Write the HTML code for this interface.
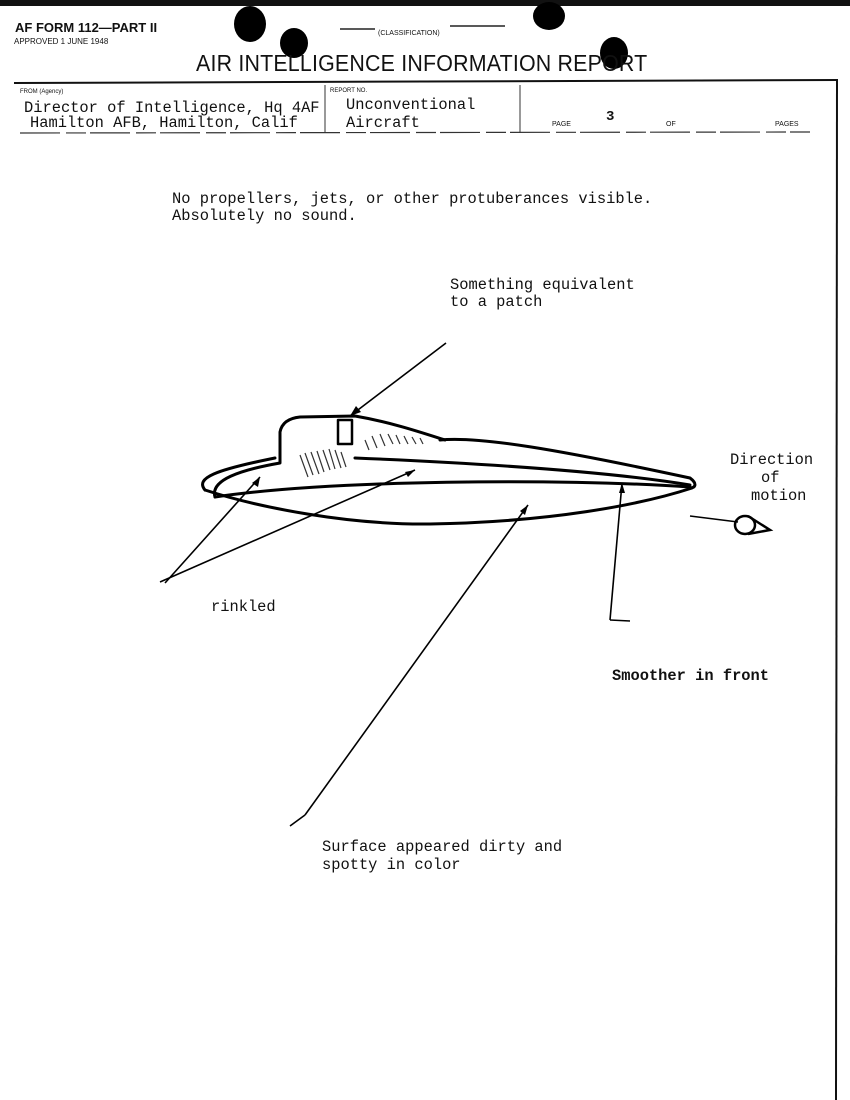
<!DOCTYPE html>
<html><head><meta charset="utf-8"><style>
body{margin:0;width:850px;height:1100px;background:#fff;overflow:hidden;position:relative;font-family:"Liberation Mono",monospace;}
.t{position:absolute;white-space:nowrap;color:#111;}
.m{font-family:"Liberation Mono",monospace;font-size:15.4px;line-height:15px;}
.s{font-family:"Liberation Sans",sans-serif;}
</style></head><body>
<svg width="850" height="1100" style="position:absolute;left:0;top:0">
<rect x="0" y="0" width="850" height="6" fill="#111"/>
<ellipse cx="250" cy="24" rx="16" ry="18" fill="#000"/>
<ellipse cx="294" cy="43" rx="14" ry="15" fill="#000"/>
<ellipse cx="549" cy="16" rx="16" ry="14" fill="#000"/>
<ellipse cx="614" cy="53" rx="14" ry="16" fill="#000"/>
<line x1="340" y1="29" x2="375" y2="29" stroke="#222" stroke-width="1.5"/>
<line x1="450" y1="26" x2="505" y2="26" stroke="#222" stroke-width="1.5"/>
<line x1="14" y1="83" x2="838" y2="80" stroke="#111" stroke-width="2"/>
<line x1="837" y1="80" x2="836" y2="1100" stroke="#111" stroke-width="2"/>
<line x1="325" y1="85" x2="325" y2="133" stroke="#333" stroke-width="1"/>
<line x1="520" y1="85" x2="520" y2="133" stroke="#333" stroke-width="1"/>
<line x1="20" y1="133" x2="810" y2="132" stroke="#333" stroke-width="1.2" stroke-dasharray="40 6 20 4"/>
<g fill="none" stroke="#000" stroke-width="3" stroke-linecap="round" stroke-linejoin="round">
<path d="M215,497 C210,480 240,470 280,463 L280,432 C282,422 290,418 300,417 L355,416 C390,422 420,432 445,440"/>
<path d="M440,440 C480,436 560,450 690,478 C698,484 695,488 690,488"/>
<path d="M205,490 C195,478 215,470 275,458"/>
<path d="M205,490 C260,508 350,525 430,524 C550,522 640,505 692,488"/>
<path d="M215,497 C330,480 560,478 690,487"/>
<path d="M355,458 C450,462 600,470 690,485"/>
<rect x="338" y="420" width="14" height="24" stroke-width="2.5"/>
</g>
<g stroke="#333" stroke-width="1.2" fill="none">
<path d="M300,455 l8,22 M305,453 l8,22 M311,452 l8,22 M317,451 l7,21 M323,450 l7,20 M329,449 l6,20 M335,450 l6,18 M341,452 l5,15"/>
<path d="M365,440 l4,10 M372,436 l5,12 M380,434 l5,12 M388,434 l5,10 M396,435 l4,9 M404,436 l4,8 M412,437 l4,7 M420,438 l3,6"/>
</g>
<g stroke="#000" stroke-width="1.6" fill="none">
<line x1="446" y1="343" x2="350" y2="416"/>
<line x1="260" y1="477" x2="165" y2="583"/>
<line x1="415" y1="470" x2="160" y2="582"/>
<line x1="528" y1="505" x2="305" y2="815"/><line x1="305" y1="815" x2="290" y2="826"/>
<line x1="622" y1="483" x2="610" y2="620"/><line x1="610" y1="620" x2="630" y2="621"/>
<line x1="690" y1="516" x2="738" y2="522"/>
</g>
<g fill="#000"><polygon points="350,416 356,406 361,412"/><polygon points="260,477 252,483 258,487"/><polygon points="415,470 405,472 408,477"/><polygon points="528,505 520,511 525,515"/><polygon points="622,483 619,493 625,493"/></g>
<g stroke="#000" stroke-width="2.5" fill="none"><ellipse cx="745" cy="525" rx="10" ry="9"/><path d="M748,516 L770,530 L748,534"/></g>
</svg>
<div class="t s" style="left:15px;top:20px;font-size:13px;font-weight:bold;">AF FORM 112—PART II</div>
<div class="t s" style="left:14px;top:37px;font-size:8px;">APPROVED 1 JUNE 1948</div>
<div class="t s" style="left:378px;top:30px;font-size:7px;">(CLASSIFICATION)</div>
<div class="t s" style="left:196px;top:50px;font-size:23px;letter-spacing:0.2px;transform:scaleX(0.93);transform-origin:left;">AIR INTELLIGENCE INFORMATION REPORT</div>
<div class="t s" style="left:20px;top:89px;font-size:6px;">FROM (Agency)</div>
<div class="t s" style="left:330px;top:88px;font-size:6px;">REPORT NO.</div>
<div class="t m" style="left:24px;top:101px;">Director of Intelligence, Hq 4AF</div>
<div class="t m" style="left:30px;top:116px;">Hamilton AFB, Hamilton, Calif</div>
<div class="t m" style="left:346px;top:98px;">Unconventional</div>
<div class="t m" style="left:346px;top:116px;">Aircraft</div>
<div class="t s" style="left:552px;top:121px;font-size:7px;">PAGE</div>
<div class="t m" style="left:606px;top:110px;font-size:14px;font-weight:bold;">3</div>
<div class="t s" style="left:666px;top:121px;font-size:7px;">OF</div>
<div class="t s" style="left:775px;top:121px;font-size:7px;">PAGES</div>
<div class="t m" style="left:172px;top:192px;">No propellers, jets, or other protuberances visible.</div>
<div class="t m" style="left:172px;top:209px;">Absolutely no sound.</div>
<div class="t m" style="left:450px;top:278px;">Something equivalent</div>
<div class="t m" style="left:450px;top:295px;">to a patch</div>
<div class="t m" style="left:730px;top:453px;">Direction</div>
<div class="t m" style="left:761px;top:471px;">of</div>
<div class="t m" style="left:751px;top:489px;">motion</div>
<div class="t m" style="left:211px;top:600px;">rinkled</div>
<div class="t m" style="left:612px;top:669px;font-weight:bold;">Smoother in front</div>
<div class="t m" style="left:322px;top:840px;">Surface appeared dirty and</div>
<div class="t m" style="left:322px;top:858px;">spotty in color</div>
</body></html>
